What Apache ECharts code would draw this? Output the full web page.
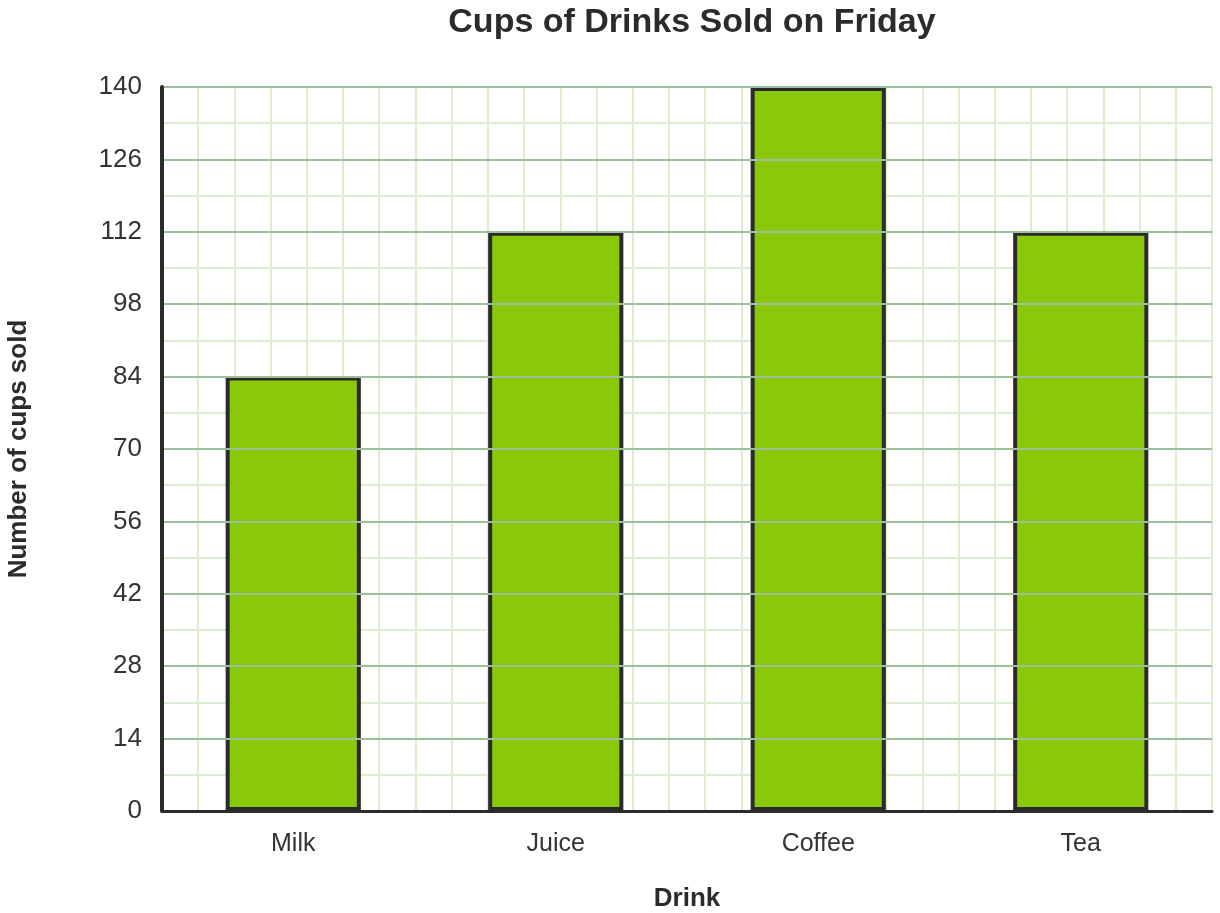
<!DOCTYPE html>
<html>
<head>
<meta charset="utf-8">
<script src="https://cdn.jsdelivr.net/npm/echarts@6/dist/echarts.min.js"></script>
<style>
html,body{margin:0;padding:0;background:#fff;}
#chart{width:1220px;height:913px;}
</style>
</head>
<body>
<div id="chart"></div>
<script>
const title = 'Cups of Drinks Sold on Friday';
const categories = ['Milk', 'Juice', 'Coffee', 'Tea'];
const cupsSold = [84, 112, 140, 112];
const yMin = 0, yMax = 140, yInterval = 14, yMinorInterval = 7;
const xGridColumns = 29;
const xAxisName = 'Drink';
const yAxisName = 'Number of cups sold';

const FONT = '"Liberation Sans", Arial, sans-serif';
const chart = echarts.init(document.getElementById('chart'));
chart.setOption({
  animation: false,
  backgroundColor: '#ffffff',
  title: {
    text: title,
    left: 687, top: 1, textAlign: 'center',
    textStyle: {fontFamily: FONT, fontSize: 34, fontWeight: 'bold', color: '#2b2b2b'}
  },
  grid: {left: 162, right: 8, top: 87, bottom: 102, containLabel: false, outerBoundsMode: 'none'},
  xAxis: [
    {
      type: 'category', data: categories, position: 'bottom',
      name: xAxisName, nameLocation: 'middle', nameGap: 75,
      nameTextStyle: {fontFamily: FONT, fontSize: 26, fontWeight: 'bold', color: '#2b2b2b'},
      axisLine: {show: true, lineStyle: {color: '#2b2b2b', width: 3}},
      axisTick: {show: false},
      axisLabel: {fontFamily: FONT, fontSize: 25, color: '#333333', margin: 21},
      splitLine: {show: false}, z: 5
    },
    {
      type: 'value', min: 0, max: xGridColumns, interval: 1, position: 'top',
      axisLine: {show: false}, axisTick: {show: false}, axisLabel: {show: false},
      splitLine: {show: true, lineStyle: {color: '#dcecd0', width: 2}}
    }
  ],
  yAxis: [
    {
      type: 'value', min: yMin, max: yMax, interval: yMinorInterval, position: 'left',
      axisLine: {show: false}, axisTick: {show: false}, axisLabel: {show: false},
      splitLine: {show: true, lineStyle: {color: '#dcecd0', width: 2}}
    },
    {
      type: 'value', min: yMin, max: yMax, interval: yInterval, position: 'left', offset: 0,
      name: yAxisName, nameLocation: 'middle', nameGap: 130, nameRotate: 90,
      nameTextStyle: {fontFamily: FONT, fontSize: 26, fontWeight: 'bold', color: '#2b2b2b'},
      axisLine: {show: true, lineStyle: {color: '#2b2b2b', width: 4}},
      axisTick: {show: false},
      axisLabel: {fontFamily: FONT, fontSize: 26, color: '#333333', margin: 20},
      splitLine: {show: true, lineStyle: {color: '#9cc09c', width: 2}}, z: 5
    }
  ],
  series: [{
    type: 'bar', data: cupsSold, xAxisIndex: 0, yAxisIndex: 1,
    barWidth: '51.5%',
    itemStyle: {color: '#8ac80a', borderColor: '#2b2b2b', borderWidth: 4},
    z: 3
  }]
});
</script>
</body>
</html>
